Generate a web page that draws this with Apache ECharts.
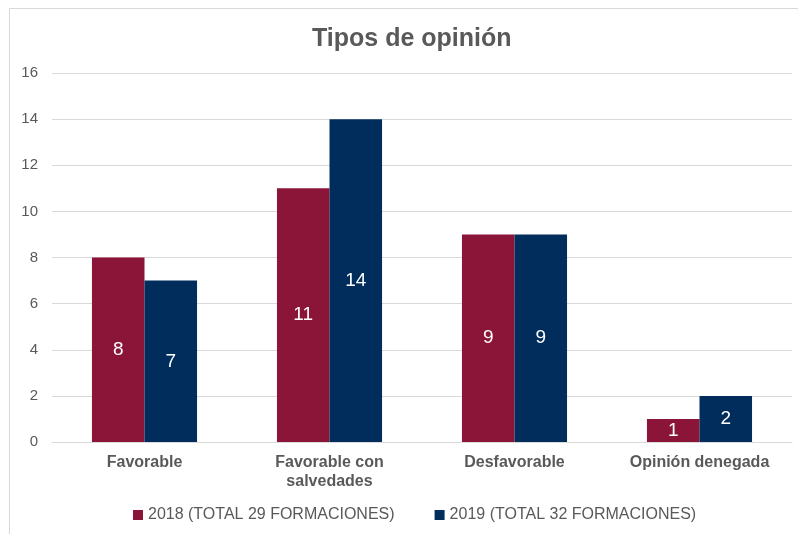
<!DOCTYPE html>
<html>
<head>
<meta charset="utf-8">
<script src="https://cdn.jsdelivr.net/npm/echarts@6/dist/echarts.min.js"></script>
<style>
  html, body { margin: 0; padding: 0; background: #fff; }
  #chart { width: 798px; height: 534px; }
</style>
</head>
<body>
<div id="chart"></div>
<script>
var categories = ['Favorable', 'Favorable con\nsalvedades', 'Desfavorable', 'Opinión denegada'];
var values2018 = [8, 11, 9, 1];
var values2019 = [7, 14, 9, 2];
var seriesNames = ['2018 (TOTAL 29 FORMACIONES)', '2019 (TOTAL 32 FORMACIONES)'];

var font = 'Liberation Sans, Arial, sans-serif';
var myChart = echarts.init(document.getElementById('chart'));

var label = {
	show: true,
	position: 'inside',
	color: '#fff',
	fontSize: 19,
	fontFamily: font
};

myChart.setOption({
	animation: false,
	graphic: [{
		type: 'rect',
		shape: { x: 9.5, y: 8.5, width: 800, height: 540 },
		style: { fill: 'none', stroke: '#d9d9d9', lineWidth: 1 },
		silent: true
	}],
	title: {
		text: 'Tipos de opinión',
		left: 307,
		top: 22,
		textStyle: { color: '#595959', fontSize: 25, fontWeight: 'bold', fontFamily: font }
	},
	legend: {
		bottom: 6,
		left: 128,
		itemWidth: 10,
		itemHeight: 10,
		itemGap: 40,
		icon: 'rect',
		textStyle: { color: '#595959', fontSize: 16, fontFamily: font }
	},
	grid: { left: 52, right: 6, top: 73, bottom: 92 },
	xAxis: {
		type: 'category',
		data: categories,
		axisLine: { lineStyle: { color: '#d9d9d9' } },
		axisTick: { show: false },
		axisLabel: {
			color: '#595959', fontSize: 16, fontWeight: 'bold', fontFamily: font,
			margin: 11, lineHeight: 19, interval: 0
		}
	},
	yAxis: {
		type: 'value',
		min: 0,
		max: 16,
		interval: 2,
		axisLine: { show: false },
		axisTick: { show: false },
		axisLabel: { color: '#595959', fontSize: 15, fontFamily: font, margin: 14 },
		splitLine: { lineStyle: { color: '#d9d9d9', width: 1 } }
	},
	series: [{
		name: seriesNames[0],
		type: 'bar',
		data: values2018,
		barWidth: '28.4%',
		barGap: '0%',
		itemStyle: { color: '#8a1538' },
		label: label
	}, {
		name: seriesNames[1],
		type: 'bar',
		data: values2019,
		barWidth: '28.4%',
		itemStyle: { color: '#002d5c' },
		label: label
	}]
});
</script>
</body>
</html>
